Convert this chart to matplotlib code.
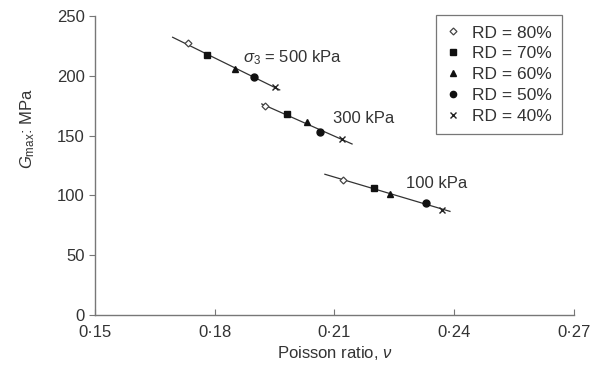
import numpy as np
import matplotlib
matplotlib.use("Agg")
from matplotlib import pyplot as plt

plt.rcParams['font.family'] = ['Liberation Sans', 'DejaVu Sans']
plt.rcParams['mathtext.fontset'] = 'custom'
plt.rcParams['mathtext.rm'] = 'Liberation Sans'
plt.rcParams['mathtext.it'] = 'Liberation Sans:italic'

labels = ['RD = 80%', 'RD = 70%', 'RD = 60%', 'RD = 50%', 'RD = 40%']
markers = ['D', 's', '^', 'o', 'x']

# poisson ratio and Gmax for each confining pressure, order RD 80..40
nu_500 = [0.1733, 0.1780, 0.1851, 0.1898, 0.1951]
g_500 = [227, 217, 206, 199, 190.5]
nu_300 = [0.1926, 0.1981, 0.2031, 0.2064, 0.2119]
g_300 = [174.5, 168, 161, 153, 147]
nu_100 = [0.2121, 0.2199, 0.2239, 0.2329, 0.2369]
g_100 = [113, 106, 101, 93.5, 88]

# extent of fitted lines
line_500 = [0.1695, 0.1963]
line_300 = [0.1918, 0.2144]
line_100 = [0.2076, 0.2389]

fs = 12

fig = plt.figure(figsize=(5.92, 3.69), dpi=100)
ax = fig.add_axes([0.160, 0.146, 0.810, 0.811])

for nu, g, xr in [(nu_500, g_500, line_500), (nu_300, g_300, line_300), (nu_100, g_100, line_100)]:
    k, b = np.polyfit(nu, g, 1)
    xr = np.array(xr)
    ax.plot(xr, k * xr + b, color='#333333', lw=0.9, zorder=1)
    for i in range(5):
        if markers[i] == 'D':
            ax.plot(nu[i], g[i], 'D', ms=3.5, mfc='white', mec='#444444', mew=0.9, zorder=3)
        elif markers[i] == 'x':
            ax.plot(nu[i], g[i], 'x', ms=5, color='#222222', mew=1.0, zorder=3)
        else:
            ax.plot(nu[i], g[i], markers[i], ms=5, color='#111111', zorder=3)

# legend handles
handles = []
for i in range(5):
    if markers[i] == 'D':
        h, = ax.plot([], [], 'D', ms=3.5, mfc='white', mec='#444444', mew=0.9)
    elif markers[i] == 'x':
        h, = ax.plot([], [], 'x', ms=4.5, color='#222222', mew=1.0)
    else:
        h, = ax.plot([], [], markers[i], ms=4.5, color='#111111')
    handles.append(h)
leg = ax.legend(handles, labels, loc='upper right', bbox_to_anchor=(0.975, 1.003),
                borderaxespad=0, fontsize=12.5, frameon=True, fancybox=False,
                edgecolor='#555555', handlelength=0.8, handletextpad=0.7,
                labelspacing=0.33, borderpad=0.6)
leg.get_frame().set_linewidth(0.9)
for t in leg.get_texts():
    t.set_color('#333333')

ax.text(0.1870, 215, r'$\sigma_3$ = 500 kPa', fontsize=fs, color='#333333', va='center')
ax.text(0.2096, 164.5, '300 kPa', fontsize=fs, color='#333333', va='center')
ax.text(0.2280, 110, '100 kPa', fontsize=fs, color='#333333', va='center')

ax.set_xlim(0.15, 0.27)
ax.set_ylim(0, 250)
ax.set_xticks([0.15, 0.18, 0.21, 0.24, 0.27])
ax.set_xticklabels(['0·15', '0·18', '0·21', '0·24', '0·27'])
ax.set_yticks([0, 50, 100, 150, 200, 250])
ax.set_xlabel(r'Poisson ratio, $\nu$', fontsize=fs, color='#333333', labelpad=3)
ax.set_ylabel(r'$G_{\mathrm{max}}$: MPa', fontsize=fs, color='#333333')
ax.yaxis.set_label_coords(-0.12, 0.625)

for s in ['top', 'right']:
    ax.spines[s].set_visible(False)
for s in ['left', 'bottom']:
    ax.spines[s].set_color('#777777')
    ax.spines[s].set_linewidth(1.0)
ax.tick_params(axis='y', direction='out', length=4, color='#777777', labelsize=fs, labelcolor='#333333', pad=3)
ax.tick_params(axis='x', direction='in', length=4, color='#777777', labelsize=fs, labelcolor='#333333', pad=7)

fig.savefig('out.png', dpi=100)
